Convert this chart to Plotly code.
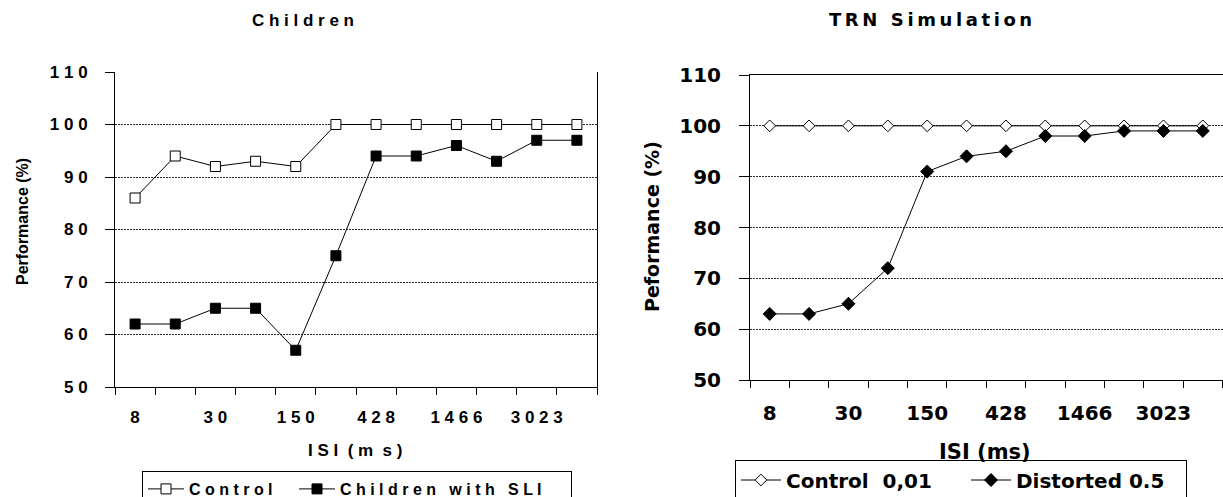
import plotly.graph_objects as go

# ---------------- data ----------------
categories = list(range(12))                       # 12 ISI conditions (category slots)
isi_labels = ["8", "30", "150", "428", "1466", "3023"]   # labels shown on every other slot
label_slots = [0, 2, 4, 6, 8, 10]
y_ticks = [50, 60, 70, 80, 90, 100, 110]

children_names = ["Control", "Children with SLI"]
children_control = [86, 94, 92, 93, 92, 100, 100, 100, 100, 100, 100, 100]
children_sli = [62, 62, 65, 65, 57, 75, 94, 94, 96, 93, 97, 97]

trn_names = ["Control  0,01", "Distorted 0.5"]
trn_control = [100, 100, 100, 100, 100, 100, 100, 100, 100, 100, 100, 100]
trn_distorted = [63, 63, 65, 72, 91, 94, 95, 98, 98, 99, 99, 99]

# ---------------- helpers ----------------
W, H = 1223, 497


def px(x):
    return x / W


def py(y):
    return 1 - y / H


def spaced(s, sep=" "):
    return sep.join(list(s))


LFONT = "Liberation Sans, Arial, sans-serif"
RFONT = "DejaVu Sans, sans-serif"
GRID = "#2a2a2a"

fig = go.Figure()

# ---- left: Children ----
fig.add_trace(go.Scatter(
    x=categories, y=children_control, name=spaced(children_names[0]),
    mode="lines+markers", xaxis="x", yaxis="y", legend="legend", legendwidth=100,
    line=dict(color="black", width=1),
    marker=dict(symbol="square", size=10, color="white", line=dict(color="black", width=1)),
))
fig.add_trace(go.Scatter(
    x=categories, y=children_sli, name=spaced(children_names[1]),
    mode="lines+markers", xaxis="x", yaxis="y", legend="legend", legendwidth=226,
    line=dict(color="black", width=1),
    marker=dict(symbol="square", size=10, color="black", line=dict(color="black", width=1)),
))

# ---- right: TRN Simulation ----
fig.add_trace(go.Scatter(
    x=categories, y=trn_control, name=trn_names[0],
    mode="lines+markers", xaxis="x2", yaxis="y2", legend="legend2", legendwidth=175,
    line=dict(color="black", width=1),
    marker=dict(symbol="diamond", size=9, color="white", line=dict(color="black", width=1)),
))
fig.add_trace(go.Scatter(
    x=categories, y=trn_distorted, name=trn_names[1],
    mode="lines+markers", xaxis="x2", yaxis="y2", legend="legend2", legendwidth=165,
    line=dict(color="black", width=1),
    marker=dict(symbol="diamond", size=10, color="black", line=dict(color="black", width=1)),
))

boundaries = [c - 0.5 for c in categories] + [categories[-1] + 0.5]

lfont = dict(family=LFONT, size=17, color="black", weight="bold")
rfont = dict(family=RFONT, size=20, color="black", weight="bold")

fig.update_layout(
    width=W, height=H,
    margin=dict(l=0, r=0, t=0, b=0, autoexpand=False),
    paper_bgcolor="white", plot_bgcolor="white",
    showlegend=True,
    xaxis=dict(
        domain=[px(115), px(597)], anchor="y",
        range=[-0.5, 11.5],
        tickmode="array", tickvals=label_slots,
        ticktext=[spaced(t) for t in isi_labels],
        ticks="", tickfont=lfont, ticklabelstandoff=15,
        showline=True, linecolor="black", linewidth=1,
        showgrid=False, zeroline=False,
        minor=dict(tickmode="array", tickvals=boundaries, ticks="outside",
                   ticklen=7, tickwidth=1, tickcolor="black", showgrid=False),
    ),
    yaxis=dict(
        domain=[py(387), py(72)], anchor="x",
        range=[50, 110],
        tickmode="array", tickvals=y_ticks,
        ticktext=[spaced(str(v)) for v in y_ticks],
        ticks="outside", ticklen=9, tickwidth=1, tickcolor="black",
        tickfont=lfont, ticklabelstandoff=14,
        showline=True, linecolor="black", linewidth=1, mirror=True,
        showgrid=True, gridcolor=GRID, gridwidth=1, griddash="2px,1px",
        zeroline=False,
    ),
    xaxis2=dict(
        domain=[px(750), px(1222.5)], anchor="y2",
        range=[-0.5, 11.5],
        tickmode="array", tickvals=label_slots, ticktext=isi_labels,
        ticks="", tickfont=rfont, ticklabelstandoff=15,
        showline=True, linecolor="black", linewidth=1, mirror=True,
        showgrid=False, zeroline=False,
        minor=dict(tickmode="array", tickvals=boundaries, ticks="outside",
                   ticklen=7, tickwidth=1, tickcolor="black", showgrid=False),
    ),
    yaxis2=dict(
        domain=[py(380), py(75)], anchor="x2",
        range=[50, 110],
        tickmode="array", tickvals=y_ticks, ticktext=[str(v) for v in y_ticks],
        ticks="outside", ticklen=10, tickwidth=1, tickcolor="black",
        tickfont=rfont, ticklabelstandoff=14,
        showline=True, linecolor="black", linewidth=1, mirror=True,
        showgrid=True, gridcolor=GRID, gridwidth=1, griddash="2px,1px",
        zeroline=False,
    ),
    legend=dict(
        x=px(142), y=py(471), xanchor="left", yanchor="top",
        orientation="h", bgcolor="white", bordercolor="black", borderwidth=1,
        itemwidth=36,
        font=dict(family=LFONT, size=16, color="black", weight="bold"),
    ),
    legend2=dict(
        x=px(735), y=py(480), xanchor="left", yanchor="middle",
        orientation="h", bgcolor="white", bordercolor="black", borderwidth=1,
        itemwidth=40,
        font=dict(family=RFONT, size=20, color="black", weight="bold"),
    ),
    annotations=[
        dict(text=spaced("Children"), x=px(303), y=py(21), xref="paper", yref="paper",
             showarrow=False, xanchor="center", yanchor="middle",
             font=dict(family=LFONT, size=17, color="black", weight="bold")),
        dict(text="Performance (%)", x=px(22), y=py(222), xref="paper", yref="paper",
             showarrow=False, textangle=-90, xanchor="center", yanchor="middle",
             font=dict(family=LFONT, size=16, color="black", weight="bold")),
        dict(text="I S I  ( m  s )", x=px(355), y=py(450), xref="paper", yref="paper",
             showarrow=False, xanchor="center", yanchor="middle",
             font=dict(family=LFONT, size=17, color="black", weight="bold")),
        dict(text=spaced("TRN Simulation", "\u2009"), x=px(930), y=py(19), xref="paper", yref="paper",
             showarrow=False, xanchor="center", yanchor="middle",
             font=dict(family=RFONT, size=18, color="black", weight="bold")),
        dict(text="Peformance (%)", x=px(652), y=py(227), xref="paper", yref="paper",
             showarrow=False, textangle=-90, xanchor="center", yanchor="middle",
             font=dict(family=RFONT, size=19, color="black", weight="bold")),
        dict(text="ISI (ms)", x=px(985), y=py(452), xref="paper", yref="paper",
             showarrow=False, xanchor="center", yanchor="middle",
             font=dict(family=RFONT, size=21, color="black", weight="bold")),
    ],
)

fig.write_html(
    "out.html",
    config={"displayModeBar": False},
    post_script="document.body.style.margin='0';document.body.style.overflow='hidden';",
)
